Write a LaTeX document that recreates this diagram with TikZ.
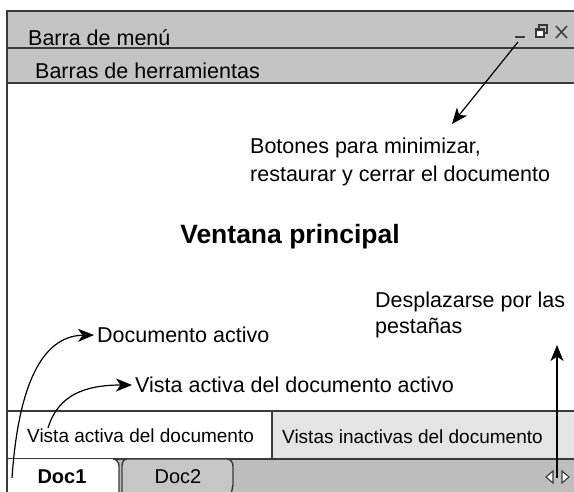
\documentclass[tikz,border=0pt]{standalone}
\usepackage{fontspec}
\setmainfont{Liberation Sans}
\usetikzlibrary{arrows.meta}
\definecolor{barfill}{HTML}{C4C4C4}
\definecolor{edge}{HTML}{3A3A3A}
\definecolor{inact}{HTML}{E4E4E4}
\definecolor{tabbar}{HTML}{BEBEBE}
\definecolor{tabtwo}{HTML}{C6C6C6}
\begin{document}
\begin{tikzpicture}[x=1pt,y=-1pt,
  lbl/.style={anchor=west,inner sep=0pt,font=\fontsize{21.5}{25}\selectfont},
  tablbl/.style={anchor=west,inner sep=0pt,font=\fontsize{19}{23}\selectfont},
  doclbl/.style={inner sep=0pt,font=\fontsize{20}{24}\selectfont},
  arr/.style={-{Stealth[length=16pt,width=13pt,inset=4.5pt]},line width=1.2pt,black},
  bar/.style={fill=barfill,draw=edge,line width=1.4pt},
  rule/.style={draw=edge,line width=1.4pt}]
\useasboundingbox (0,0) rectangle (574,491);
\fill[white] (0,0) rectangle (574,491);
\clip (0,0) rectangle (574,491);
% menu and tool bars
\path[bar] (7,11) rectangle (580,48);
\path[bar] (7,48) rectangle (580,83);
% left window border
\draw[rule] (7,83) -- (7,495);
% view bar
\path[rule,fill=white] (7,411) rectangle (272,459);
\path[rule,fill=inact] (272,411) rectangle (580,459);
% tab bar
\path[rule,fill=tabbar] (7,459) rectangle (580,495);
\path[fill=white] (7,459) -- (113,459) to[out=0,in=90] (119,466) -- (119,495) -- (7,495) -- cycle;
\draw[rule] (113,459) to[out=0,in=90] (119,466) -- (119,495);
\path[rule,fill=tabtwo] (122,495) -- (122,466) to[out=90,in=180] (127,459) -- (227,459) to[out=0,in=90] (233,466) -- (233,485) to[out=-90,in=90] (231,495);
\draw[rule] (7,459) -- (7,495);
% window buttons
\draw[edge,line width=2.2pt] (515,37) -- (525,37);
\draw[edge,line width=1.2pt,fill=white] (536,29) rectangle (544,37);
\draw[edge,line width=2pt] (536,29.5) -- (544,29.5);
\draw[edge,line width=1.2pt] (539,29) -- (539,25) -- (547,25) -- (547,33) -- (544,33);
\draw[edge,line width=1.5pt] (556,26) -- (567,38) (567,26) -- (556,38);
% scroll arrows
\draw[edge,line width=1.1pt,fill=white] (553,471) -- (553,483) -- (546,477) -- cycle;
\draw[edge,line width=1.1pt,fill=white] (562,471) -- (562,483) -- (569,477) -- cycle;
% texts
\node[lbl] (menu) at (28,38) {Barra de menú};
\node[lbl] (tools) at (35,71) {Barras de herramientas};
\node[lbl] (btn1) at (250,148) {Botones para minimizar,};
\node[lbl] (btn2) at (250,176) {restaurar y cerrar el documento};
\node[inner sep=0pt,font=\fontsize{26.5}{30}\selectfont\bfseries] (main) at (290,237) {Ventana principal};
\node[lbl] (scroll1) at (375,302) {Desplazarse por las};
\node[lbl] (scroll2) at (375,328) {pestañas};
\node[lbl] (docact) at (97,335) {Documento activo};
\node[lbl] (vistaact) at (135,385) {Vista activa del documento activo};
\node[tablbl] (tabact) at (27,436) {Vista activa del documento};
\node[tablbl] (tabinact) at (282,437) {Vistas inactivas del documento};
\node[doclbl,font=\fontsize{20}{24}\selectfont\bfseries] (doc1) at (62,477) {Doc1};
\node[doclbl] (doc2) at (178,477) {Doc2};
% connectors
\coordinate (minbtn) at (518,42);
\coordinate (btntip) at (452,124);
\draw[arr] (minbtn) -- (btntip);
\coordinate (c1) at (12,478);
\draw[arr] (c1) .. controls (18,390) and (40,336) .. ([xshift=-3pt]docact.west);
\coordinate (c2) at (48,428);
\draw[arr] (c2) .. controls (58,395) and (85,385) .. ([xshift=-3pt]vistaact.west);
\coordinate (c3) at (557,478);
\coordinate (c4) at (557,345);
\draw[arr] (c3) -- (c4);
\end{tikzpicture}
\end{document}
